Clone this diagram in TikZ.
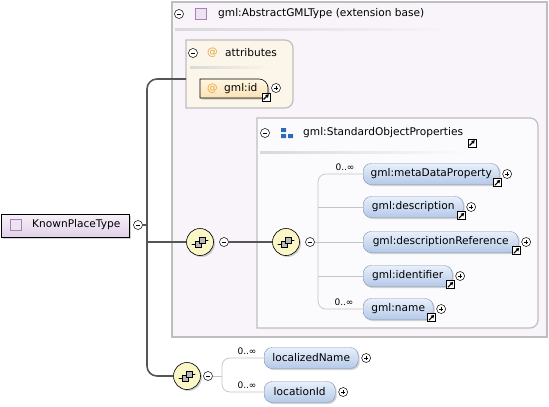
\documentclass[tikz,border=0pt]{standalone}
\usepackage{fontspec}
\setmainfont{DejaVu Sans}
\definecolor{outerfill}{RGB}{248, 244, 250}
\definecolor{outerline}{RGB}{190, 190, 190}
\definecolor{innerfill}{RGB}{251, 251, 253}
\definecolor{attrfill}{RGB}{252, 246, 234}
\definecolor{idtop}{RGB}{255, 247, 228}
\definecolor{idbot}{RGB}{250, 226, 180}
\definecolor{elemtop}{RGB}{232, 240, 251}
\definecolor{elembot}{RGB}{180, 201, 232}
\definecolor{elemline}{RGB}{130, 146, 175}
\definecolor{typetop}{RGB}{247, 240, 249}
\definecolor{typebot}{RGB}{224, 210, 232}
\definecolor{typeline}{RGB}{170, 128, 188}
\definecolor{seqfill}{RGB}{250, 246, 198}
\definecolor{treegray}{RGB}{85, 85, 85}
\definecolor{branchgray}{RGB}{196, 196, 196}
\definecolor{atorange}{RGB}{232, 163, 59}
\definecolor{groupblue}{RGB}{45, 108, 181}
\usetikzlibrary{positioning, calc, shadows, arrows.meta}

\begin{document}
\begin{tikzpicture}[x=1pt, y=-1pt, font=\fontsize{10.6}{12}\selectfont,
  hdr/.style={inner sep=0pt, anchor=west},
  card/.style={inner sep=0pt, font=\fontsize{9}{11}\selectfont},
  shadowed/.style={drop shadow={opacity=0.35, shadow xshift=1.5pt, shadow yshift=-1.5pt}},
  panel/.style={draw=outerline, line width=1.2pt},
  elem/.style={draw=elemline, rounded corners=8pt, top color=elemtop, bottom color=elembot,
    minimum height=21pt, inner sep=0pt, anchor=west, shadowed},
  minus/.style={circle, draw, fill=white, inner sep=0pt, minimum size=9pt, line width=0.5pt,
    path picture={\draw[line width=0.7pt] ([xshift=2.2pt]path picture bounding box.west) -- ([xshift=-2.2pt]path picture bounding box.east);}},
  plus/.style={minus, path picture={\draw[line width=0.7pt]
    ([xshift=2.2pt]path picture bounding box.west) -- ([xshift=-2.2pt]path picture bounding box.east)
    ([yshift=-2.2pt]path picture bounding box.north) -- ([yshift=2.2pt]path picture bounding box.south);}},
  link/.style={draw, fill=white, inner sep=0pt, minimum size=8pt, line width=0.6pt,
    path picture={\draw[line width=1.1pt, -{Triangle[length=3.2pt, width=3.6pt]}]
      ([shift={(1.5pt,1.5pt)}]path picture bounding box.south west) -- ([shift={(-1.2pt,-1.2pt)}]path picture bounding box.north east);}},
  typeicon/.style={draw=typeline, fill=typebot!60, inner sep=0pt, minimum size=11pt, line width=0.5pt},
  seq/.style={circle, draw, fill=seqfill, minimum size=27pt, inner sep=0pt, line width=0.6pt, shadowed,
    path picture={\begin{scope}[shift={(path picture bounding box.center)}]
      \draw[fill=gray!55, line width=0.4pt] (-5,-1) rectangle (1,5);
      \draw[fill=gray!55, line width=0.4pt] (-1,-5) rectangle (5,1);
      \draw[line width=0.6pt] (-9,2) -- (-5,2) (5,-2) -- (9,-2);
      \fill (-9,2) circle (1.1) (9,-2) circle (1.1);
    \end{scope}}},
  tree/.style={draw=treegray, line width=1.6pt},
  branch/.style={draw=branchgray, line width=0.7pt}]

  \useasboundingbox (0,0) rectangle (549,407);

  \draw[panel, fill=outerfill] (172,2) rectangle (547,337);
  \node[minus] (mExt) at (179,14) {};
  \node[typeicon] (iExt) at (201,14) {};
  \node[hdr] (tExt) at (218,14) {gml:AbstractGMLType (extension base)};
  \shade[left color=gray!30, right color=outerfill] (175,28) rectangle (455,30);

  \draw[panel, fill=attrfill] (186,108) -- (186,40) -- (285,40) arc[start angle=-90, end angle=0, radius=8]
    -- (293,100) arc[start angle=0, end angle=90, radius=8] -- cycle;
  \node[minus] (mAttr) at (193,53) {};
  \node[hdr, text=atorange] (aAttr) at (207,53) {@};
  \node[hdr] (tAttr) at (225,53) {attributes};
  \shade[left color=gray!30, right color=attrfill] (190,66) rectangle (272,68);

  \draw[top color=idtop, bottom color=idbot, draw=black, line width=0.6pt, shadowed]
    (200,98) -- (200,79) -- (259,79) arc[start angle=-90, end angle=0, radius=9] -- (268,95)
    arc[start angle=0, end angle=90, radius=3] -- cycle;
  \node[hdr, text=atorange] (aId) at (207,88.5) {@};
  \node[hdr] (tId) at (224,88.5) {gml:id};
  \node[link] (lId) at (266,97) {};
  \node[plus] (pId) at (276,88) {};

  \draw[panel, fill=innerfill] (257,328) -- (257,118) -- (530,118) arc[start angle=-90, end angle=0, radius=8]
    -- (538,320) arc[start angle=0, end angle=90, radius=8] -- cycle;
  \node[minus] (mStd) at (265,133) {};
  \fill[groupblue] (281,128) rectangle (286,132) (281,134) rectangle (286,138) (288,134) rectangle (293,138);
  \node[hdr] (tStd) at (303,133) {gml:StandardObjectProperties};
  \node[link] (lStd) at (472,143) {};
  \shade[left color=gray!30, right color=innerfill] (260,151) rectangle (470,153);

  \node[draw, line width=0.7pt, top color=typetop, bottom color=typebot, minimum width=128pt, minimum height=23pt, anchor=west, shadowed] (known) at (1,225.5) {};
  \node[typeicon] (iKnown) at (16,225) {};
  \node[hdr] (tKnown) at (32,225) {KnownPlaceType};
  \node[minus] (mKnown) at (138,225) {};

  \coordinate (attrIn) at (186,79);
  \node[seq] (seqA) at (200,242) {};
  \node[minus] (mSeqA) at (224,242) {};
  \node[seq] (seqB) at (286,242) {};
  \node[minus] (mSeqB) at (310,242) {};
  \node[seq] (seqC) at (187,376) {};
  \node[minus] (mSeqC) at (208,376) {};

  \draw[tree, rounded corners=10pt] (attrIn) -| (147,376) -- (seqC);
  \draw[tree] (mKnown) -- (147,225);
  \draw[tree] (147,242) -- (seqA);
  \draw[tree] (mSeqA) -- (seqB);

  \node[elem, minimum width=136pt] (meta) at (363,174) {gml:metaDataProperty};
  \node[elem, minimum width=100pt] (desc) at (363,207) {gml:description};
  \node[elem, minimum width=155pt] (descRef) at (363,242) {gml:descriptionReference};
  \node[elem, minimum width=89pt] (ident) at (363,276) {gml:identifier};
  \node[elem, minimum width=70pt] (name) at (363,309) {gml:name};
  \foreach \e in {meta, desc, descRef, ident, name} {
    \node[link] (l\e) at ([shift={(-2pt,2pt)}]\e.south east) {};
    \node[plus, right=3pt of \e] (p\e) {};
  }
  \node[card] (cMeta) at ($(meta.west)+(-18,-7)$) {0..∞};
  \node[card] (cName) at ($(name.west)+(-19,-7)$) {0..∞};
  \draw[branch, rounded corners=8pt] (meta.west) -| (318,242) |- (name.west);
  \draw[branch] (mSeqB) -- (descRef.west);
  \draw[branch] (318,207) -- (desc.west);
  \draw[branch] (318,276) -- (ident.west);

  \node[elem, minimum width=94pt] (locName) at (264,358) {localizedName};
  \node[elem, minimum width=71pt] (locId) at (264,392) {locationId};
  \node[plus, right=3pt of locName] (pLocName) {};
  \node[plus, right=3pt of locId] (pLocId) {};
  \node[card] (cLocName) at ($(locName.west)+(-17,-7)$) {0..∞};
  \node[card] (cLocId) at ($(locId.west)+(-17,-7)$) {0..∞};
  \draw[branch, rounded corners=8pt] (locName.west) -| (222,376) |- (locId.west);
  \draw[branch] (mSeqC) -- (222,376);
\end{tikzpicture}
\end{document}
